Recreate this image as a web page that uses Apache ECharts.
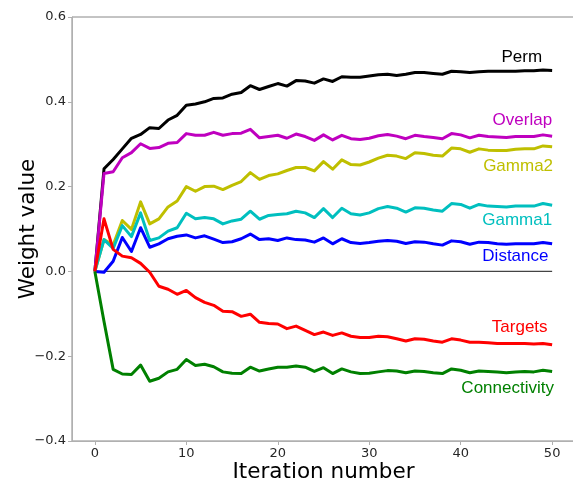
<!DOCTYPE html>
<html><head><meta charset="utf-8">
<script src="https://cdn.jsdelivr.net/npm/echarts@6/dist/echarts.min.js"></script>
<style>html,body{margin:0;padding:0;background:#fff}#c{width:573px;height:479px}</style>
</head><body><div id="c"></div>
<script>
const iterations = [0,1,2,3,4,5,6,7,8,9,10,11,12,13,14,15,16,17,18,19,20,21,22,23,24,25,26,27,28,29,30,31,32,33,34,35,36,37,38,39,40,41,42,43,44,45,46,47,48,49,50];
const xTicks = [0,10,20,30,40,50];
const perm = [0,0.242,0.264,0.289,0.314,0.323,0.339,0.337,0.357,0.368,0.392,0.395,0.400,0.408,0.409,0.418,0.422,0.438,0.429,0.436,0.443,0.437,0.450,0.449,0.444,0.454,0.448,0.459,0.458,0.458,0.461,0.464,0.465,0.462,0.465,0.469,0.469,0.467,0.465,0.472,0.471,0.469,0.471,0.472,0.472,0.472,0.472,0.473,0.473,0.475,0.474];
const overlap = [0,0.231,0.235,0.268,0.280,0.301,0.290,0.292,0.302,0.304,0.325,0.321,0.321,0.328,0.321,0.325,0.326,0.335,0.315,0.318,0.321,0.314,0.324,0.318,0.309,0.322,0.310,0.321,0.313,0.311,0.314,0.320,0.323,0.319,0.313,0.321,0.318,0.316,0.313,0.325,0.322,0.315,0.321,0.318,0.317,0.316,0.318,0.318,0.318,0.322,0.319];
const gamma2 = [0,0.075,0.062,0.120,0.099,0.164,0.112,0.124,0.152,0.166,0.200,0.189,0.200,0.201,0.193,0.203,0.212,0.233,0.217,0.226,0.230,0.238,0.245,0.245,0.237,0.259,0.241,0.263,0.252,0.251,0.258,0.267,0.274,0.272,0.266,0.280,0.278,0.274,0.272,0.291,0.289,0.281,0.289,0.286,0.285,0.285,0.288,0.289,0.289,0.296,0.294];
const gamma1 = [0,0.075,0.054,0.108,0.082,0.138,0.073,0.079,0.095,0.103,0.137,0.124,0.127,0.124,0.112,0.119,0.123,0.142,0.123,0.132,0.134,0.136,0.142,0.138,0.127,0.148,0.127,0.149,0.136,0.133,0.138,0.148,0.153,0.149,0.140,0.150,0.149,0.145,0.142,0.160,0.158,0.149,0.158,0.154,0.153,0.152,0.154,0.154,0.154,0.160,0.156];
const distance = [0,-0.002,0.024,0.080,0.047,0.103,0.057,0.065,0.077,0.083,0.086,0.079,0.084,0.076,0.068,0.070,0.077,0.088,0.075,0.077,0.073,0.079,0.075,0.074,0.069,0.079,0.065,0.077,0.068,0.066,0.068,0.071,0.073,0.071,0.066,0.070,0.069,0.065,0.062,0.072,0.070,0.064,0.069,0.068,0.065,0.064,0.065,0.065,0.065,0.068,0.065];
const targets = [0,0.124,0.052,0.036,0.032,0.019,-0.002,-0.035,-0.042,-0.054,-0.045,-0.062,-0.073,-0.080,-0.094,-0.095,-0.106,-0.101,-0.120,-0.123,-0.124,-0.135,-0.129,-0.139,-0.149,-0.143,-0.151,-0.145,-0.153,-0.156,-0.156,-0.153,-0.154,-0.159,-0.164,-0.159,-0.160,-0.164,-0.167,-0.159,-0.162,-0.167,-0.167,-0.168,-0.170,-0.170,-0.170,-0.170,-0.171,-0.170,-0.173];
const connectivity = [0,-0.118,-0.231,-0.242,-0.243,-0.221,-0.259,-0.252,-0.237,-0.231,-0.208,-0.222,-0.219,-0.225,-0.237,-0.240,-0.241,-0.226,-0.235,-0.230,-0.226,-0.226,-0.223,-0.226,-0.236,-0.227,-0.241,-0.230,-0.237,-0.241,-0.240,-0.237,-0.234,-0.235,-0.239,-0.235,-0.236,-0.239,-0.241,-0.230,-0.233,-0.239,-0.235,-0.236,-0.237,-0.239,-0.237,-0.236,-0.237,-0.233,-0.236];
const zeroLineX = [0,50];
const seriesNames = ['Perm','Overlap','Gamma2','Gamma1','Distance','Targets','Connectivity'];
const seriesValues = [perm, overlap, gamma2, gamma1, distance, targets, connectivity];
const seriesColors = ['#000000','#bf00bf','#bfbf00','#00bfbf','#0000ff','#ff0000','#008000'];
const labelX = [48.9, 50.0, 50.1, 50.0, 49.6, 49.5, 50.2];
const labelY = [0.506, 0.357, 0.248, 0.120, 0.035, -0.133, -0.276];

const chart = echarts.init(document.getElementById('c'), null, {renderer:'canvas'});
const series = [{
  type:'line', data: zeroLineX.map(x=>[x,0]), symbol:'none', silent:true,
  lineStyle:{color:'#444', width:1.3}, z:1
}];
seriesNames.forEach((n,k)=>{
  series.push({
    name:n, type:'line', symbol:'none', z:2+k,
    data: iterations.map((x,i)=>[x, seriesValues[k][i]]),
    lineStyle:{color:seriesColors[k], width:3, join:'round'},
    itemStyle:{color:seriesColors[k]},
    markPoint:{
      symbol:'circle', symbolSize:0, silent:true,
      data:[{coord:[labelX[k], labelY[k]]}],
      label:{show:true, position:'left', distance:0, formatter:n,
        color:seriesColors[k], fontFamily:'Liberation Sans, Arial', fontSize:17}
    }
  });
});
chart.setOption({
  animation:false,
  grid:{left:72, right:-2, top:17, bottom:38, containLabel:false, outerBoundsMode:'none',
    show:true, borderColor:'#888', borderWidth:1},
  xAxis:{type:'value', min:-2.5, max:52.5,
    name:'Iteration number', nameLocation:'middle', nameGap:20, nameMoveOverlap:false,
    nameTextStyle:{fontFamily:'DejaVu Sans', fontSize:21.5, color:'#000'},
    axisLine:{show:true, onZero:false, lineStyle:{color:'#b0b0b0', width:1}},
    axisTick:{show:true, length:4, lineStyle:{color:'#b0b0b0'}, customValues:xTicks},
    axisLabel:{show:true, margin:6, fontFamily:'DejaVu Sans', fontSize:13, color:'#262626', customValues:xTicks},
    splitLine:{show:false}},
  yAxis:{type:'value', min:-0.4, max:0.6, interval:0.2,
    name:'Weight value', nameLocation:'middle', nameGap:33, nameMoveOverlap:false,
    nameTextStyle:{fontFamily:'DejaVu Sans', fontSize:21.5, color:'#000'},
    axisLine:{show:true, onZero:false, lineStyle:{color:'#b0b0b0', width:1}},
    axisTick:{show:true, length:4, lineStyle:{color:'#b0b0b0'}},
    axisLabel:{show:true, margin:6, fontFamily:'DejaVu Sans', fontSize:13, color:'#262626',
      formatter:v=>v.toFixed(1).replace('-','\u2212')},
    splitLine:{show:false}},
  series: series
});
</script></body></html>
